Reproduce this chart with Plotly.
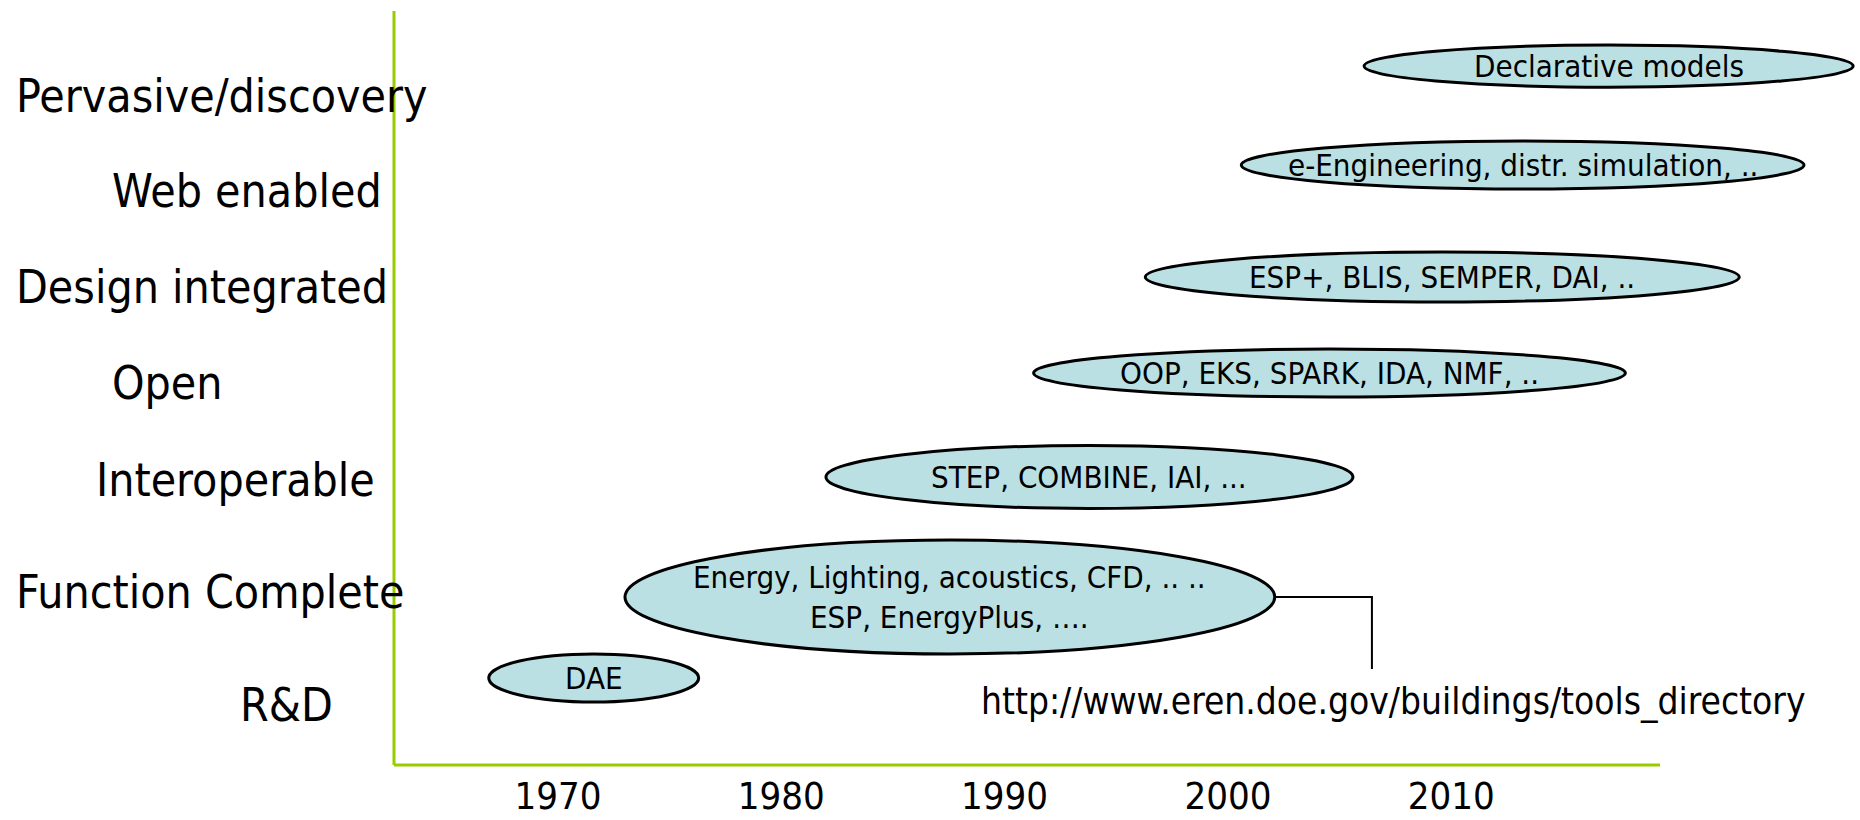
import plotly.graph_objects as go

# ---------------- data ----------------
stage_labels = ["R&D", "Function Complete", "Interoperable", "Open",
                "Design integrated", "Web enabled", "Pervasive/discovery"]
stage_level = [0.63, 1.80, 2.97, 3.98, 4.98, 5.98, 6.97]

tool_texts = [
    "DAE",
    "Energy, Lighting, acoustics, CFD, .. ..<br>ESP, EnergyPlus, \u2026.",
    "STEP, COMBINE, IAI, ...",
    "OOP, EKS, SPARK, IDA, NMF, ..",
    "ESP+, BLIS, SEMPER, DAI, ..",
    "e-Engineering, distr. simulation, ..",
    "Declarative models",
]
tool_start_year = [1966.9, 1973.0, 1982.0, 1991.3, 1996.3, 2000.6, 2006.1]
tool_end_year = [1976.3, 2002.1, 2005.6, 2017.8, 2022.9, 2025.8, 2028.0]
tool_level = [0.906, 1.75, 3.0, 4.083, 5.083, 6.25, 7.28]

year_ticks = [1970, 1980, 1990, 2000, 2010]
year_tick_labels = ["1970", "1980", "1990", "2000", "2010"]

source_text = "http://www.eren.doe.gov/buildings/tools_directory"
source_year = 1988.85
source_level = 0.66
callout_year = 2006.45
callout_end_level = 1.0

axis_start_year = 1962.656
axis_end_year = 2019.35
axis_top_level = 7.854

# ---------------- layout / style ----------------
W, H = 1860, 820
PX_PER_YEAR = 22.33
PX_PER_LEVEL = 96.0
AXIS_PX_X = 394
AXIS_PX_Y = 765
M_L, M_R, M_T, M_B = 392, 0, 9, 53
PLOT_W = W - M_L - M_R

FONT = "DejaVu Sans Condensed, Tahoma, DejaVu Sans, sans-serif"
GREEN = "#99CC00"
FILL = "#BAE0E3"
ELLIPSE_HALF_HEIGHT = [0.25, 0.594, 0.328, 0.25, 0.26, 0.25, 0.219]
STAGE_LABEL_LEFT_PX = [238, 14, 94, 110, 14, 110, 14]
STAGE_FONT_SIZE = 46
TOOL_FONT_SIZE = 31
TICK_FONT_SIZE = 38
SOURCE_FONT_SIZE = 36.8

x_range = [axis_start_year - (AXIS_PX_X - M_L) / PX_PER_YEAR,
           axis_start_year + (W - M_R - AXIS_PX_X) / PX_PER_YEAR]
y_range = [-(H - M_B - AXIS_PX_Y) / PX_PER_LEVEL,
           (AXIS_PX_Y - M_T) / PX_PER_LEVEL]

fig = go.Figure()

# callout connector from the "Function Complete" ellipse to the URL
fig.add_trace(go.Scatter(
    x=[tool_end_year[1], callout_year, callout_year],
    y=[tool_level[1], tool_level[1], callout_end_level],
    mode="lines", line=dict(color="black", width=2),
    hoverinfo="skip", showlegend=False))

shapes = []
# axis lines
shapes.append(dict(type="line", xref="x", yref="y",
                   x0=axis_start_year, x1=axis_start_year,
                   y0=0, y1=axis_top_level,
                   line=dict(color=GREEN, width=3), layer="above"))
shapes.append(dict(type="line", xref="x", yref="y",
                   x0=axis_start_year, x1=axis_end_year, y0=0, y1=0,
                   line=dict(color=GREEN, width=3), layer="above"))

annotations = []
for txt, x0, x1, yc, hh in zip(tool_texts, tool_start_year, tool_end_year,
                               tool_level, ELLIPSE_HALF_HEIGHT):
    shapes.append(dict(type="circle", xref="x", yref="y",
                       x0=x0, x1=x1, y0=yc - hh, y1=yc + hh,
                       fillcolor=FILL, line=dict(color="black", width=3),
                       layer="above"))
    annotations.append(dict(x=(x0 + x1) / 2, y=yc, xref="x", yref="y",
                            text=txt, showarrow=False,
                            xanchor="center", yanchor="middle",
                            font=dict(family=FONT, size=TOOL_FONT_SIZE,
                                      color="black")))

for lab, lvl, px in zip(stage_labels, stage_level, STAGE_LABEL_LEFT_PX):
    annotations.append(dict(x=(px - M_L) / PLOT_W, y=lvl, xref="paper",
                            yref="y", text=lab, showarrow=False,
                            xanchor="left", yanchor="middle",
                            font=dict(family=FONT, size=STAGE_FONT_SIZE,
                                      color="black")))

annotations.append(dict(x=source_year, y=source_level, xref="x", yref="y",
                        text=source_text, showarrow=False,
                        xanchor="left", yanchor="middle",
                        font=dict(family=FONT, size=SOURCE_FONT_SIZE,
                                  color="black")))

fig.update_layout(
    width=W, height=H,
    margin=dict(l=M_L, r=M_R, t=M_T, b=M_B, pad=0, autoexpand=False),
    paper_bgcolor="white", plot_bgcolor="white",
    shapes=shapes, annotations=annotations,
    showlegend=False,
    xaxis=dict(range=x_range, tickvals=year_ticks, ticktext=year_tick_labels,
               showgrid=False, zeroline=False, showline=False, ticks="",
               ticklabelstandoff=3, automargin=False,
               tickfont=dict(family=FONT, size=TICK_FONT_SIZE, color="black"),
               fixedrange=True),
    yaxis=dict(range=y_range, showgrid=False, zeroline=False, showline=False,
               showticklabels=False, ticks="", automargin=False,
               fixedrange=True),
)

fig.write_html(
    "out.html",
    config={"displayModeBar": False},
    post_script="document.body.style.margin='0';document.body.style.overflow='hidden';",
)
